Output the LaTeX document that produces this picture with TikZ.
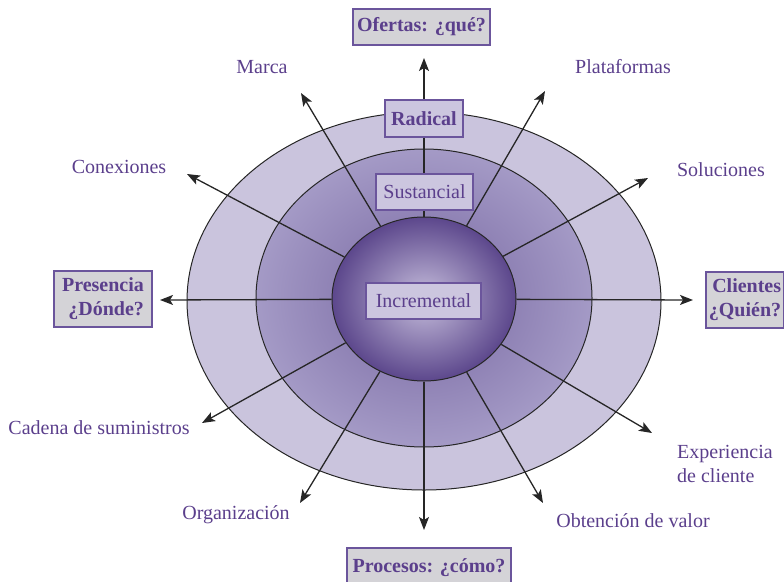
\documentclass[tikz,border=0pt]{standalone}
\usepackage{fontspec}
\setmainfont{Liberation Serif}
\usetikzlibrary{shapes.geometric,arrows.meta}

\definecolor{txt}{HTML}{5B3F8C}
\definecolor{edge}{HTML}{6B559C}
\definecolor{ringout}{HTML}{CAC4DD}
\definecolor{ringmidA}{HTML}{8E81B4}
\definecolor{ringmidB}{HTML}{A49AC6}
\definecolor{coreLight}{HTML}{C6BEDC}
\definecolor{coreDark}{HTML}{5C478C}
\definecolor{tagfill}{HTML}{D4D3D7}
\definecolor{levelfill}{HTML}{CCC6DF}

% middle ring: darker towards the core, lighter towards the outer ring
\pgfdeclareradialshading{midring}{\pgfpoint{0bp}{0bp}}{%
  color(0bp)=(ringmidA); color(13bp)=(ringmidA); color(25bp)=(ringmidB); color(50bp)=(ringmidB)}

\begin{document}
\begin{tikzpicture}[x=1pt,y=-1pt,
  every node/.style={font=\fontsize{20}{24}\selectfont, text=txt},
  disc/.style={ellipse, draw=black!85, line width=1pt, inner sep=0pt},
  spoke/.style={draw=black!85, line width=1.3pt,
    -{Stealth[length=13pt,width=10pt,inset=3pt]}},
  tag/.style={draw=edge, line width=1.2pt, fill=tagfill, inner sep=0pt,
    font=\bfseries\fontsize{20}{24}\selectfont},
  level/.style={draw=edge, line width=1.2pt, fill=levelfill, inner sep=0pt},
  lbl/.style={inner sep=0pt}
]
\useasboundingbox (0,0) rectangle (784,581);

% concentric rings
\node[disc, fill=ringout, minimum width=474pt, minimum height=378pt] (outer) at (424,301) {};
\node[disc, shading=midring, minimum width=336pt, minimum height=298pt] (mid) at (424,298) {};
\node[disc, shading=radial, inner color=coreLight, outer color=coreDark,
      minimum width=184pt, minimum height=164pt] (core) at (424,299) {};

% arrow end points
\coordinate (tN)  at (424,58);
\coordinate (tS)  at (424,530);
\coordinate (tW)  at (160,300);
\coordinate (tE)  at (693,300);
\coordinate (tMa) at (301,93);
\coordinate (tPl) at (545,91);
\coordinate (tCo) at (187,174);
\coordinate (tSo) at (648,178);
\coordinate (tCa) at (202,423);
\coordinate (tOr) at (300,503);
\coordinate (tOb) at (543,503);
\coordinate (tEx) at (652,433);

% spokes
\foreach \t in {tN,tS,tW,tE,tMa,tPl,tCo,tSo,tCa,tOr,tOb,tEx}
  \draw[spoke] (core) -- (\t);

% innovation levels
\node[level, minimum width=78pt, minimum height=37pt] (radical) at (424,118.5) {\bfseries Radical};
\node[level, minimum width=97pt, minimum height=36pt] (sust) at (424.5,192) {Sustancial};
\node[level, minimum width=115pt, minimum height=36pt] (incr) at (423.5,301) {Incremental};

% main dimensions
\node[tag, minimum width=137pt, minimum height=36pt] (ofertas) at (421.5,27) {Ofertas: ¿qué?};
\node[tag, minimum width=164pt, minimum height=40pt] (procesos) at (429,568) {Procesos: ¿cómo?};
\node[tag, minimum width=98pt, minimum height=56pt, align=right] (presencia) at (103,299) {Presencia\\¿Dónde?};
\node[tag, minimum width=78pt, minimum height=56pt, align=right] (clientes) at (745,300) {Clientes\\¿Quién?};

% further dimensions
\node[lbl] (marca) at (262,67) {Marca};
\node[lbl] (plat) at (623,67) {Plataformas};
\node[lbl] (conex) at (119,167) {Conexiones};
\node[lbl] (solu) at (721,170) {Soluciones};
\node[lbl] (cadena) at (99,428) {Cadena de suministros};
\node[lbl] (organ) at (236,515) {Organización};
\node[lbl] (obten) at (633,521) {Obtención de valor};
\node[lbl, anchor=west, align=left] (exper) at (677,464) {Experiencia\\de cliente};
\end{tikzpicture}
\end{document}
